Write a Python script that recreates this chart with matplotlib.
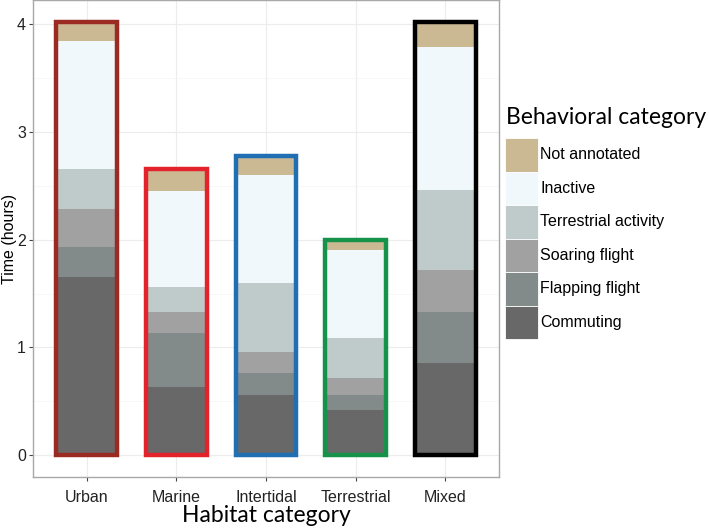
import numpy as np
import matplotlib.pyplot as plt
from matplotlib.patches import Patch

habitats = ["Urban", "Marine", "Intertidal", "Terrestrial", "Mixed"]
edge_colors = ["#9b2a22", "#e2232c", "#1f6fb2", "#16924a", "#000000"]

# stacked from bottom to top
behaviours = ["Commuting", "Flapping flight", "Soaring flight",
              "Terrestrial activity", "Inactive", "Not annotated"]
fill_colors = ["#686868", "#838b8a", "#a1a1a1", "#bfcbca", "#f1f8fb", "#cbb994"]

commuting = [1.65, 0.63, 0.56, 0.42, 0.86]
flapping = [0.28, 0.50, 0.20, 0.14, 0.47]
soaring = [0.35, 0.20, 0.20, 0.16, 0.39]
terrestrial = [0.37, 0.23, 0.64, 0.37, 0.74]
inactive = [1.19, 0.89, 1.00, 0.81, 1.32]
not_annotated = [0.18, 0.20, 0.17, 0.10, 0.24]

series = [commuting, flapping, soaring, terrestrial, inactive, not_annotated]

fig = plt.figure(figsize=(7.09, 5.30), dpi=100)
ax = fig.add_axes([33 / 709, 53 / 530, 466 / 709, 477 / 530])

x = np.arange(1, len(habitats) + 1)
width = 0.68
bottom = np.zeros(len(habitats))
for vals, col in zip(series, fill_colors):
    ax.bar(x, vals, width, bottom=bottom, color=col, linewidth=0, zorder=2)
    bottom += np.array(vals)

# coloured outline per habitat
for xi, total, ec in zip(x, bottom, edge_colors):
    ax.bar(xi, total, width, fill=False, edgecolor=ec, linewidth=3.2, zorder=3)

ax.set_xlim(0.4, 5.6)
ax.set_ylim(-0.2, 4.22)
ax.set_xticks(x)
ax.set_xticklabels(habitats)
ax.set_yticks([0, 1, 2, 3, 4])
ax.set_yticks([0.5, 1.5, 2.5, 3.5], minor=True)

ax.grid(True, which="major", color="#ececec", linewidth=0.8, zorder=0)
ax.grid(True, which="minor", axis="y", color="#f4f4f4", linewidth=0.5, zorder=0)
ax.set_axisbelow(True)
for s in ax.spines.values():
    s.set_color("#a8a8a8")
    s.set_linewidth(1.0)

narrow = ["Liberation Sans Narrow", "Liberation Sans", "DejaVu Sans"]
ax.tick_params(axis="both", which="major", length=3, color="#444444", labelsize=11.5)
ax.tick_params(axis="x", pad=6)
ax.tick_params(axis="y", pad=2)
ax.tick_params(axis="both", which="minor", length=0)
for lab in ax.get_xticklabels() + ax.get_yticklabels():
    lab.set_fontfamily(narrow)
    lab.set_color("#222222")

ax.set_ylabel("Time (hours)", fontsize=11.5, family=narrow)
ax.yaxis.set_label_coords(-16 / 466, 0.5)
ax.set_xlabel("Habitat category", fontsize=16.5, family=["Lato", "DejaVu Sans"], labelpad=0)

fig.text(506 / 709, 1 - 117 / 530, "Behavioral category", fontsize=16.5,
         family=["Lato", "DejaVu Sans"], ha="left", va="center")

handles = [Patch(facecolor=c, edgecolor="white", linewidth=0.6) for c in fill_colors[::-1]]
leg = fig.legend(handles, behaviours[::-1], loc="upper left",
                 bbox_to_anchor=(505 / 709, 1 - 138 / 530),
                 frameon=False,
                 prop={"family": narrow, "size": 11.5},
                 handlelength=2.08, handleheight=2.85, labelspacing=0.0,
                 handletextpad=0.12, borderaxespad=0, borderpad=0)

fig.savefig("out.png", dpi=100)
